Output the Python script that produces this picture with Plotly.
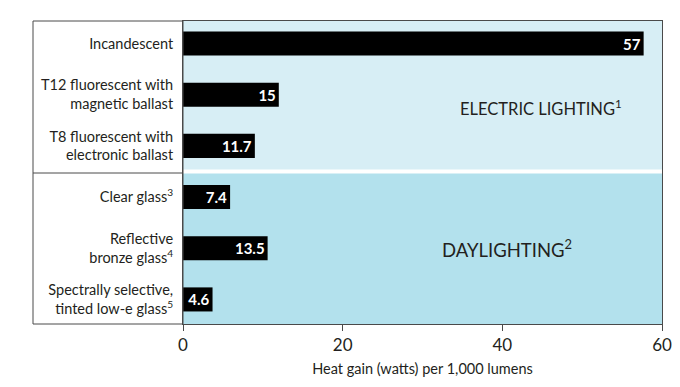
import plotly.graph_objects as go

# Data
categories = [
    "Incandescent",
    "T12 fluorescent with<br>magnetic ballast",
    "T8 fluorescent with<br>electronic ballast",
    "Clear glass<sup>3</sup>",
    "Reflective<br>bronze glass<sup>4</sup>",
    "Spectrally selective,<br>tinted low-e glass<sup>5</sup>",
]
values = [57, 15, 11.7, 7.4, 13.5, 4.6]              # printed values (labels)
bar_lengths = [57.7, 12.0, 9.0, 5.9, 10.6, 3.7]      # bar lengths as drawn in the reference (axis units)
x_ticks = [0, 20, 40, 60]
section_labels = ["ELECTRIC LIGHTING<sup>1</sup>", "DAYLIGHTING<sup>2</sup>"]

FONT = "Lato"
TXT = "#231f20"
LINE = "#4a4a4a"

fig = go.Figure()
fig.add_trace(go.Bar(
    y=categories, x=bar_lengths, orientation="h",
    marker=dict(color="#000000", line=dict(width=0)),
    width=0.47,
    text=[("%g" % v) for v in values],
    textposition="inside", insidetextanchor="end",
    textfont=dict(color="white", size=15, family=FONT, weight="bold"),
    hoverinfo="skip",
))

y_top, y_bot = -0.44, 5.48
split = 2.5
left_x = (33 - 183) / 479.0

shapes = [
    dict(type="rect", xref="x", yref="y", x0=0, x1=60, y0=y_top, y1=split,
         fillcolor="#d7eef5", line=dict(width=0), layer="below"),
    dict(type="rect", xref="x", yref="y", x0=0, x1=60, y0=split, y1=y_bot,
         fillcolor="#b3e1ed", line=dict(width=0), layer="below"),
    dict(type="line", xref="x", yref="y", x0=0, x1=60, y0=split, y1=split,
         line=dict(color="white", width=4), layer="below"),
    dict(type="rect", xref="paper", yref="paper", x0=left_x, x1=0, y0=0, y1=1,
         line=dict(color=LINE, width=1), fillcolor="rgba(0,0,0,0)"),
    dict(type="line", xref="paper", yref="y", x0=left_x, x1=0, y0=split + 0.03, y1=split + 0.03,
         line=dict(color=LINE, width=1)),
]

annotations = [
    dict(x=44.9, y=1.25, xref="x", yref="y", text=section_labels[0], showarrow=False,
         font=dict(family=FONT, size=16.5, color=TXT)),
    dict(x=40.6, y=4.0, xref="x", yref="y", text=section_labels[1], showarrow=False,
         font=dict(family=FONT, size=18.5, color=TXT)),
]

fig.update_layout(
    width=680, height=387,
    margin=dict(l=183, r=18, t=21, b=63, autoexpand=False),
    paper_bgcolor="white", plot_bgcolor="white",
    showlegend=False,
    shapes=shapes, annotations=annotations,
    uniformtext=dict(mode="show", minsize=15),
    font=dict(family=FONT, color=TXT),
    xaxis=dict(range=[0, 60], tickvals=x_ticks, ticks="outside", ticklen=6,
               tickcolor=LINE, showgrid=False, zeroline=False, automargin=False,
               showline=True, linecolor=LINE, linewidth=1, mirror=True,
               tickfont=dict(size=17, family=FONT, color=TXT),
               title=dict(text="Heat gain (watts) per 1,000 lumens",
                          font=dict(size=14.5, family=FONT, color=TXT), standoff=9)),
    yaxis=dict(categoryorder="array", categoryarray=categories, automargin=False,
               range=[y_bot, y_top], showgrid=False, zeroline=False,
               showline=True, linecolor=LINE, linewidth=1, mirror=True,
               ticks="", ticklabelstandoff=6,
               tickfont=dict(size=14.5, family=FONT, color=TXT)),
)

fig.write_html("out.html", post_script="document.body.style.margin='0';",
               config={"displayModeBar": False})
